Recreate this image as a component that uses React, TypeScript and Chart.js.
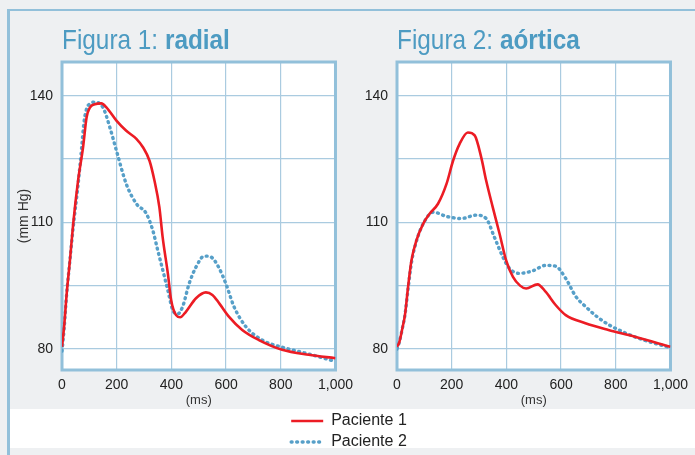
import React, { useEffect, useRef } from 'react';
import { Chart, registerables } from 'chart.js';

Chart.register(...registerables);

// ---- data (ms / mm Hg) ----
const radialP1Ms = [0, 8, 17, 29, 41, 59, 77, 90, 102, 120, 144, 163, 199, 235, 272, 296, 320, 338, 356, 368, 387, 399, 417, 432, 453, 490, 526, 550, 575, 611, 659, 720, 805, 902, 1000];
const radialP1 = [80.5, 85.5, 93, 101, 109.7, 120, 127.8, 134.9, 137.2, 138.0, 138.2, 137.2, 134.1, 131.7, 129.8, 127.8, 124.6, 119.9, 113.6, 106.5, 97.9, 91.6, 88.0, 87.5, 88.8, 92.0, 93.4, 92.8, 90.8, 87.6, 84.5, 82.1, 79.8, 78.6, 77.8];

const radialP2Ms = [0, 8, 17, 29, 41, 59, 72, 80, 90, 105, 120, 150, 175, 199, 235, 272, 308, 332, 350, 368, 387, 405, 423, 441, 465, 490, 520, 544, 569, 599, 629, 672, 732, 817, 914, 1000];
const radialP2 = [79.5, 85, 93, 101, 108.9, 119.1, 127.8, 133.5, 136.9, 138.2, 138.5, 137.2, 132.5, 127.0, 119.1, 114.4, 112.1, 108.1, 103.4, 98.8, 93.9, 89.2, 88.3, 90.0, 95.5, 99.4, 102.0, 101.8, 99.8, 95.5, 90.0, 85.3, 82.1, 80.2, 78.6, 77.0];

const aorticP1Ms = [0, 8, 20, 29, 41, 53, 71, 96, 120, 150, 181, 205, 229, 259, 284, 308, 326, 350, 375, 399, 424, 450, 472, 514, 544, 580, 617, 689, 773, 870, 1000];
const aorticP1 = [80.5, 81.5, 85, 88, 95, 101, 105.7, 109.7, 112.1, 114.4, 119.1, 124.6, 128.6, 131.3, 130.6, 125.4, 119.9, 113.6, 107.3, 101, 97.1, 95, 94.3, 95.3, 93.5, 90.4, 88.0, 86.1, 84.5, 82.9, 80.5];

const aorticP2Ms = [0, 8, 20, 29, 41, 53, 71, 96, 133, 181, 235, 290, 326, 356, 387, 411, 447, 496, 544, 580, 617, 654, 690, 732, 775, 824, 884, 944, 1000];
const aorticP2 = [80, 81.5, 85, 88, 94.5, 100.5, 105.5, 109.7, 112.4, 111.4, 110.9, 111.7, 110.9, 106.5, 101.8, 99.1, 97.9, 98.5, 99.8, 99.6, 96.7, 92.4, 90.0, 87.6, 85.7, 84.1, 82.5, 81.3, 80.3];

const seriesNames = ['Paciente 1', 'Paciente 2'];
const yGridValues = [80, 95, 110, 125, 140];
const yTickLabels = [80, 110, 140];
const xTickValues = [0, 200, 400, 600, 800, 1000];
const yMin = 75;
const yMax = 148;
const xMin = 0;
const xMax = 1000;

const RED = '#ec1c24';
const BLUE = '#569fc8';
const FRAME = '#92c0da';
const GRID = '#aacbe0';
const TITLE_COLOR = '#4d9bc2';
const FONT = "'Liberation Sans', Arial, sans-serif";
const BLUE_DASH = [0.9, 4.6];

const toPoints = (xs: number[], ys: number[]) => xs.map((x, i) => ({ x, y: ys[i] }));

const plotFrame = {
  id: 'plotFrame',
  beforeDraw(chart: any) {
    const { ctx, chartArea } = chart;
    if (!chartArea) return;
    ctx.save();
    ctx.fillStyle = '#ffffff';
    ctx.fillRect(chartArea.left, chartArea.top, chartArea.width, chartArea.height);
    ctx.restore();
  },
  beforeDatasetsDraw(chart: any) {
    const { ctx, chartArea } = chart;
    ctx.save();
    ctx.strokeStyle = FRAME;
    ctx.lineWidth = 3;
    ctx.strokeRect(chartArea.left, chartArea.top, chartArea.width, chartArea.height);
    ctx.restore();
  },
};

// figure title with a regular and a bold part, horizontally condensed
const figTitle = {
  id: 'figTitle',
  afterDraw(chart: any, _args: any, opts: any) {
    const { ctx, chartArea } = chart;
    const sx = 0.87;
    ctx.save();
    ctx.translate(chartArea.left, chartArea.top - 13.5);
    ctx.scale(sx, 1);
    ctx.fillStyle = TITLE_COLOR;
    ctx.textBaseline = 'alphabetic';
    ctx.textAlign = 'left';
    ctx.font = `400 28px ${FONT}`;
    ctx.fillText(opts.regular, 0, 0);
    const w = ctx.measureText(opts.regular).width;
    ctx.font = `700 28px ${FONT}`;
    ctx.fillText(opts.bold, w, 0);
    ctx.restore();
  },
};

function makeConfig(
  regular: string,
  bold: string,
  p1x: number[],
  p1y: number[],
  p2x: number[],
  p2y: number[],
  yAxisWidth: number,
  showYTitle: boolean
): any {
  return {
    type: 'line',
    data: {
      datasets: [
        {
          label: seriesNames[0],
          data: toPoints(p1x, p1y),
          borderColor: RED,
          borderWidth: 2.6,
          pointRadius: 0,
          cubicInterpolationMode: 'monotone',
          fill: false,
        },
        {
          label: seriesNames[1],
          data: toPoints(p2x, p2y),
          borderColor: BLUE,
          borderWidth: 3.4,
          borderDash: BLUE_DASH,
          borderCapStyle: 'round',
          pointRadius: 0,
          cubicInterpolationMode: 'monotone',
          fill: false,
        },
      ],
    },
    options: {
      animation: false,
      responsive: true,
      maintainAspectRatio: false,
      layout: { padding: { top: 62, right: 23, bottom: 0, left: 0 } },
      plugins: {
        legend: { display: false },
        tooltip: { enabled: false },
        figTitle: { regular, bold },
      },
      scales: {
        x: {
          type: 'linear',
          min: xMin,
          max: xMax,
          afterBuildTicks: (axis: any) => {
            axis.ticks = xTickValues.map((v) => ({ value: v }));
          },
          afterFit: (axis: any) => {
            axis.height = 39;
          },
          grid: { color: GRID, lineWidth: 1.2, drawTicks: false },
          border: { display: false },
          ticks: {
            padding: 7,
            maxRotation: 0,
            autoSkip: false,
            color: '#222',
            font: { family: FONT, size: 14 },
          },
          title: {
            display: true,
            text: '(ms)',
            color: '#333',
            font: { family: FONT, size: 13 },
            padding: { top: 0, bottom: 1 },
          },
        },
        y: {
          type: 'linear',
          min: yMin,
          max: yMax,
          afterBuildTicks: (axis: any) => {
            axis.ticks = yGridValues.map((v) => ({ value: v }));
          },
          afterFit: (axis: any) => {
            axis.width = yAxisWidth;
          },
          grid: { color: GRID, lineWidth: 1.2, drawTicks: false },
          border: { display: false },
          ticks: {
            padding: 9,
            color: '#222',
            font: { family: FONT, size: 14 },
            callback: (v: number) => (yTickLabels.includes(v) ? String(v) : ''),
          },
          title: {
            display: showYTitle,
            text: '(mm Hg)',
            color: '#333',
            font: { family: FONT, size: 14 },
            padding: { top: 16, bottom: 0 },
          },
        },
      },
    },
    plugins: [plotFrame, figTitle],
  };
}

function legendConfig(): any {
  return {
    type: 'line',
    data: {
      datasets: [
        { label: seriesNames[0], data: [], borderColor: RED, backgroundColor: RED, borderWidth: 2.6, borderCapStyle: 'butt' },
        {
          label: seriesNames[1],
          data: [],
          borderColor: BLUE,
          backgroundColor: BLUE,
          borderWidth: 3.4,
          borderDash: BLUE_DASH,
          borderCapStyle: 'round',
        },
      ],
    },
    options: {
      animation: false,
      responsive: true,
      maintainAspectRatio: false,
      layout: { padding: { left: 258, right: 265, top: 0, bottom: 0 } },
      scales: { x: { display: false }, y: { display: false } },
      plugins: {
        tooltip: { enabled: false },
        legend: {
          display: true,
          position: 'top',
          maxHeight: 60,
          labels: {
            usePointStyle: true,
            pointStyle: 'line',
            pointStyleWidth: 32,
            padding: 5,
            color: '#222',
            font: { family: FONT, size: 16 },
            generateLabels: (chart: any) => {
              const items = Chart.defaults.plugins.legend.labels.generateLabels(chart);
              items.forEach((it: any, i: number) => {
                const ds: any = chart.data.datasets[i];
                it.strokeStyle = ds.borderColor;
                it.lineWidth = ds.borderWidth;
                it.lineDash = ds.borderDash || [];
                it.lineCap = ds.borderCapStyle || 'butt';
                it.pointStyle = 'line';
              });
              return items;
            },
          },
        },
      },
    },
  };
}

function useChart(ref: React.RefObject<HTMLCanvasElement | null>, build: () => any) {
  useEffect(() => {
    if (!ref.current) return;
    const chart = new Chart(ref.current, build());
    return () => chart.destroy();
  }, []);
}

export default function App() {
  const c1 = useRef<HTMLCanvasElement | null>(null);
  const c2 = useRef<HTMLCanvasElement | null>(null);
  const c3 = useRef<HTMLCanvasElement | null>(null);

  useChart(c1, () => makeConfig('Figura 1: ', 'radial', radialP1Ms, radialP1, radialP2Ms, radialP2, 62, true));
  useChart(c2, () => makeConfig('Figura 2: ', 'aórtica', aorticP1Ms, aorticP1, aorticP2Ms, aorticP2, 57, false));
  useChart(c3, legendConfig);

  const abs = (left: number, top: number, width: number, height: number): React.CSSProperties => ({
    position: 'absolute',
    left,
    top,
    width,
    height,
  });

  return (
    <div
      style={{
        position: 'fixed',
        left: 0,
        top: 0,
        width: 695,
        height: 455,
        background: '#eef0f2',
        overflow: 'hidden',
      }}
    >
      <div
        style={{
          position: 'absolute',
          left: 7,
          top: 9,
          right: -10,
          bottom: -10,
          borderTop: `2px solid ${FRAME}`,
          borderLeft: `3px solid ${FRAME}`,
        }}
      />
      <div style={{ ...abs(10, 409, 685, 39), background: '#ffffff' }} />
      <div style={abs(0, 0, 360, 409)}>
        <canvas ref={c1} />
      </div>
      <div style={abs(340, 0, 355, 409)}>
        <canvas ref={c2} />
      </div>
      <div style={abs(10, 408, 685, 70)}>
        <canvas ref={c3} />
      </div>
    </div>
  );
}
